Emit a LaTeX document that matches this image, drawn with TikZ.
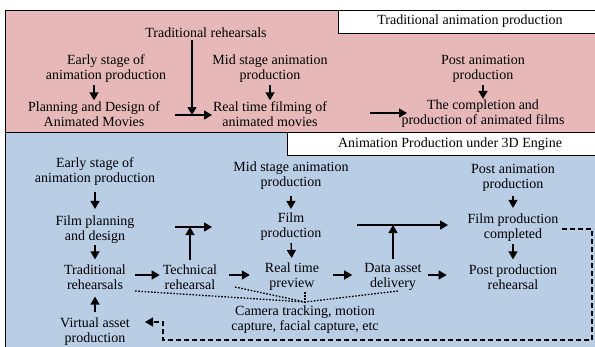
\documentclass[tikz,border=0pt]{standalone}
\usepackage{fontspec}
\setmainfont{Liberation Serif}
\usetikzlibrary{arrows.meta,calc}
\definecolor{panelpink}{HTML}{E6B9B8}
\definecolor{panelblue}{HTML}{B9CDE5}
\begin{document}
\begin{tikzpicture}[x=1pt,y=-1pt,
  lbl/.style={align=center,inner sep=0pt,font=\fontsize{14}{15}\selectfont},
  arr/.style={line width=1.3pt,-{Triangle[length=8pt,width=9pt]}},
  ret/.style={line width=1.2pt,dash pattern=on 5pt off 3pt,-{Triangle[length=8pt,width=9pt]}},
  dots/.style={line width=1.3pt,dash pattern=on 1.6pt off 1.6pt},
  panel/.style={draw=black,line width=1pt},
  tab/.style={draw=black,fill=white,line width=1pt}]
\useasboundingbox (0,0) rectangle (595,346);
\fill[white] (0,0) rectangle (595,346);

% panels and their title tabs
\draw[panel,fill=panelpink] (5,10) rectangle (600,132);
\draw[tab] (338,10) rectangle (600,33);
\draw[panel,fill=panelblue] (5,132) rectangle (600,352);
\draw[tab] (287,132) rectangle (600,155);
\node[lbl] (ttl1) at (470,21) {Traditional animation production};
\node[lbl] (ttl2) at (450,144) {Animation Production under 3D Engine};

% ---------- traditional workflow ----------
\node[lbl] (tr) at (206,33) {Traditional rehearsals};
\node[lbl] (e1) at (106,69) {Early stage of\\animation production};
\node[lbl] (p1) at (94,114) {Planning and Design of\\Animated Movies};
\node[lbl] (m1) at (270,69) {Mid stage animation\\production};
\node[lbl] (r1) at (270,114) {Real time filming of\\animated movies};
\node[lbl] (po1) at (483,69) {Post animation\\production};
\node[lbl] (c1) at (483,114) {The completion and\\production of animated films};

\draw[arr,shorten <=2pt,shorten >=1pt] (p1.north |- e1.south) -- (p1.north);
\draw[arr,shorten <=2pt,shorten >=1pt] (m1.south) -- (r1.north);
\draw[arr,shorten <=2pt,shorten >=1pt] (po1.south) -- (c1.north);

\coordinate (jtop) at (192,115);
\draw[arr,shorten <=2pt] (tr.south -| jtop) -- (jtop);
\coordinate (htopa) at (175,115);
\coordinate (htopb) at (212,115);
\draw[arr] (htopa) -- (htopb);
\coordinate (hra) at (370,113);
\coordinate (hrb) at (407,113);
\draw[arr] (hra) -- (hrb);

% ---------- 3D engine workflow ----------
\node[lbl] (e2) at (95,172) {Early stage of\\animation production};
\node[lbl] (f2) at (95,230) {Film planning\\and design};
\node[lbl] (t2) at (95,277) {Traditional\\rehearsals};
\node[lbl] (v2) at (95,332) {Virtual asset\\production};
\node[lbl] (te) at (190,277) {Technical\\rehearsal};
\node[lbl] (m2) at (291,176) {Mid stage animation\\production};
\node[lbl] (fp) at (291,227) {Film\\production};
\node[lbl] (rt) at (292,277) {Real time\\preview};
\node[lbl] (da) at (393,277) {Data asset\\delivery};
\node[lbl] (pa) at (513,178) {Post animation\\production};
\node[lbl] (fc) at (513,228) {Film production\\completed};
\node[lbl] (pr) at (513,277) {Post production\\rehearsal};
\node[lbl] (cam) at (305,320) {Camera tracking, motion\\capture, facial capture, etc};

% vertical steps
\draw[arr,shorten <=6pt,shorten >=7pt] (e2.south) -- (f2.north);
\draw[arr,shorten <=1pt,shorten >=5pt] (f2.south) -- (t2.north);
\draw[arr,shorten <=6pt,shorten >=7pt] (v2.north) -- (t2.south);
\draw[arr,shorten <=6pt,shorten >=4pt] (m2.south) -- (fp.north);
\draw[arr,shorten <=2pt,shorten >=5pt] (fp.south) -- (rt.north);
\draw[arr,shorten <=4pt,shorten >=6pt] (pa.south) -- (fc.north);
\draw[arr,shorten <=2pt,shorten >=5pt] (fc.south) -- (pr.north);

% horizontal steps along the rehearsal row
\draw[arr,shorten <=9pt,shorten >=3pt] ($(t2.east)+(0,-2)$) -- ($(te.west)+(0,-2)$);
\draw[arr,shorten <=12pt,shorten >=15pt] ($(te.east)+(0,-2)$) -- ($(rt.west)+(0,-2)$);
\draw[arr,shorten <=14pt,shorten >=12pt] ($(rt.east)+(0,-2)$) -- ($(da.west)+(0,-2)$);
\draw[arr,shorten <=6pt,shorten >=22pt] ($(da.east)+(0,-2)$) -- ($(pr.west)+(0,-2)$);

% branches that join forward arrows
\coordinate (jt) at (190,227);
\draw[arr,shorten <=4pt] (te.north) -- (jt);
\coordinate (jta) at (175,227);
\coordinate (jtb) at (212,227);
\draw[arr] (jta) -- (jtb);
\coordinate (jd) at (393,225);
\draw[arr,shorten <=4pt] (da.north) -- (jd);
\coordinate (jda) at (357,225);
\coordinate (jdb) at (448,225);
\draw[arr] (jda) -- (jdb);

% dotted links to motion capture
\coordinate (hub) at (305,302);
\coordinate (dt2) at (135,291);
\coordinate (dte) at (235,287);
\coordinate (drt) at (305,292);
\coordinate (dda) at (398,291);
\draw[dots] (dt2) -- (hub);
\draw[dots] (dte) -- (hub);
\draw[dots] (drt) -- (hub);
\draw[dots] (dda) -- (hub);

% dashed feedback loop back to asset production
\coordinate (rs) at (562,229);
\coordinate (rc1) at (592,229);
\coordinate (rc2) at (592,340);
\coordinate (rc3) at (163,340);
\coordinate (rc4) at (163,322);
\coordinate (rend) at (145,322);
\draw[ret] (rs) -- (rc1) -- (rc2) -- (rc3) -- (rc4) -- (rend);
\end{tikzpicture}
\end{document}
